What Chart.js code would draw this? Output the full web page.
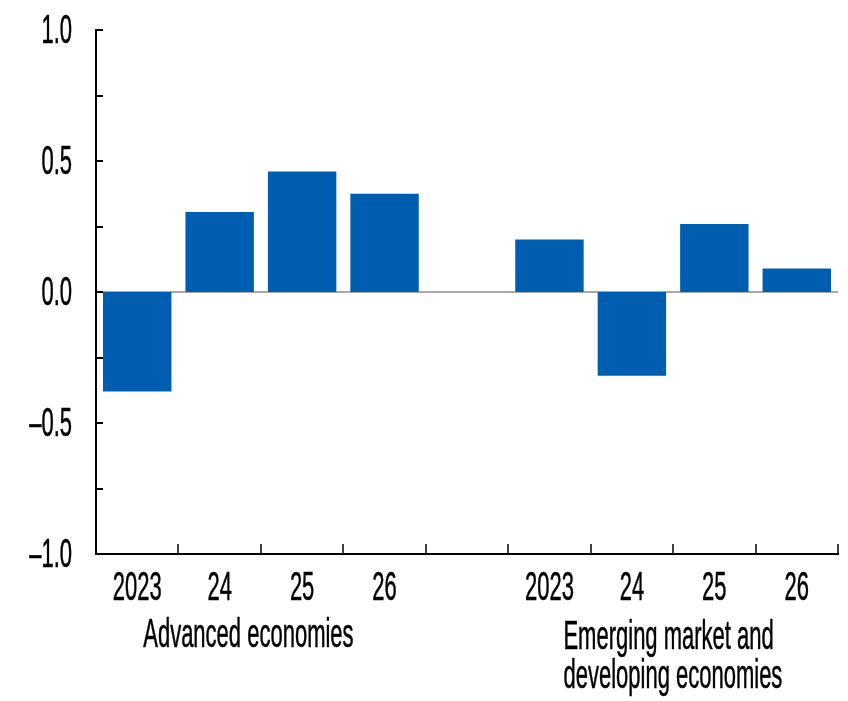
<!DOCTYPE html>
<html>
<head>
<meta charset="utf-8">
<script src="https://cdn.jsdelivr.net/npm/chart.js@4.4.1/dist/chart.umd.min.js"></script>
<style>
  html, body { margin: 0; padding: 0; background: #fff; }
  canvas { display: block; }
</style>
</head>
<body>
<canvas id="chart" width="848" height="701"></canvas>
<script>
// Data
const categories = ["2023", "24", "25", "26", "", "2023", "24", "25", "26"];
const values = [-0.38, 0.305, 0.46, 0.375, null, 0.2, -0.32, 0.26, 0.09];
const yTickValues = [1, 0.5, 0, -0.5, -1];
const yTickLabels = ["1.0", "0.5", "0.0", "\u20130.5", "\u20131.0"];
const groupLabels = [["Advanced economies"], ["Emerging market and", "developing economies"]];

const BAR_COLOR = "#005EB0";
const FONT = "22px 'Liberation Sans', Arial, sans-serif";
const STRETCH = 1.82; // text in the reference is tall and narrow

// draws text stretched vertically, baseline at y
function tallText(ctx, text, x, y, align) {
  ctx.save();
  ctx.font = FONT;
  ctx.fillStyle = "#000";
  ctx.strokeStyle = "#000";
  ctx.lineWidth = 0.3;
  ctx.textAlign = align;
  ctx.textBaseline = "alphabetic";
  ctx.scale(1, STRETCH);
  ctx.fillText(text, x, y / STRETCH);
  ctx.strokeText(text, x, y / STRETCH);
  ctx.restore();
}

const axisDecor = {
  id: "axisDecor",
  beforeDatasetsDraw(chart) {
    const { ctx, chartArea } = chart;
    const y = chart.scales.y;
    // zero line
    const y0 = y.getPixelForValue(0);
    ctx.save();
    ctx.strokeStyle = "#555";
    ctx.lineWidth = 1.2;
    ctx.beginPath();
    ctx.moveTo(chartArea.left, y0);
    ctx.lineTo(chartArea.right, y0);
    ctx.stroke();
    ctx.restore();
  },
  afterDraw(chart) {
    const { ctx, chartArea } = chart;
    const x = chart.scales.x;
    const y = chart.scales.y;

    ctx.save();
    ctx.strokeStyle = "#000";
    ctx.lineWidth = 2;
    // y tick marks, pointing inward
    y.ticks.forEach(t => {
      const py = Math.round(y.getPixelForValue(t.value));
      ctx.beginPath();
      ctx.moveTo(chartArea.left, py);
      ctx.lineTo(chartArea.left + 7, py);
      ctx.stroke();
    });
    // x tick marks between categories, pointing up
    ctx.lineWidth = 1.5;
    for (let i = 0; i < categories.length; i++) {
      const px = Math.round(x.getPixelForValue(i + 0.5));
      ctx.beginPath();
      ctx.moveTo(px, chartArea.bottom);
      ctx.lineTo(px, chartArea.bottom - 10);
      ctx.stroke();
    }
    ctx.restore();

    // y labels
    yTickValues.forEach((v, i) => {
      tallText(ctx, yTickLabels[i], chartArea.left - 24, y.getPixelForValue(v) + 13, "right");
    });
    // category labels
    categories.forEach((c, i) => {
      if (c) tallText(ctx, c, x.getPixelForValue(i), chartArea.bottom + 46, "center");
    });
    // group labels, left aligned under each group
    tallText(ctx, groupLabels[0][0], x.getPixelForValue(0) + 6, chartArea.bottom + 93, "left");
    groupLabels[1].forEach((line, i) => {
      tallText(ctx, line, x.getPixelForValue(5) + 14, chartArea.bottom + 95 + i * 39, "left");
    });
  }
};

new Chart(document.getElementById("chart"), {
  type: "bar",
  data: {
    labels: categories,
    datasets: [{
      data: values,
      backgroundColor: BAR_COLOR,
      borderWidth: 0,
      barPercentage: 0.83,
      categoryPercentage: 1
    }]
  },
  options: {
    responsive: false,
    animation: false,
    layout: { padding: { left: 96, right: 10, top: 30, bottom: 147 } },
    plugins: { legend: { display: false }, tooltip: { enabled: false } },
    scales: {
      x: {
        grid: { display: false, drawTicks: false },
        ticks: { display: false },
        border: { color: "#000", width: 2 }
      },
      y: {
        min: -1,
        max: 1,
        ticks: { display: false, stepSize: 0.25 },
        grid: { display: false, drawTicks: false },
        border: { color: "#000", width: 2 }
      }
    }
  },
  plugins: [axisDecor]
});
</script>
</body>
</html>
